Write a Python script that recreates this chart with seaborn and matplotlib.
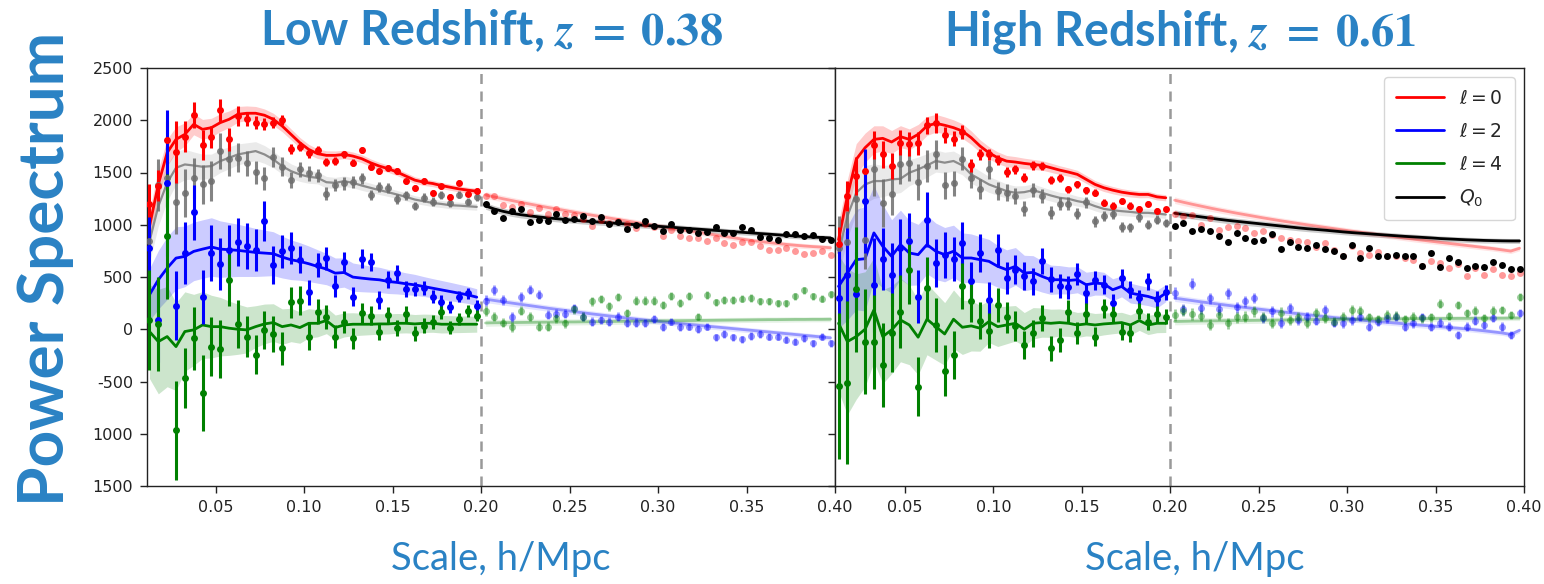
import numpy as np
import matplotlib
matplotlib.use('Agg')
import matplotlib.pyplot as plt
import seaborn as sns
from matplotlib.lines import Line2D

# ---------------- k bins ----------------
K_LOW = [0.0125, 0.0175, 0.0225, 0.0275, 0.0325, 0.0375, 0.0425, 0.0475, 0.0525, 0.0575,
         0.0625, 0.0675, 0.0725, 0.0775, 0.0825, 0.0875, 0.0925, 0.0975, 0.1025, 0.1075,
         0.1125, 0.1175, 0.1225, 0.1275, 0.1325, 0.1375, 0.1425, 0.1475, 0.1525, 0.1575,
         0.1625, 0.1675, 0.1725, 0.1775, 0.1825, 0.1875, 0.1925, 0.1975]
K_HIGH = [0.2025, 0.2075, 0.2125, 0.2175, 0.2225, 0.2275, 0.2325, 0.2375, 0.2425, 0.2475,
          0.2525, 0.2575, 0.2625, 0.2675, 0.2725, 0.2775, 0.2825, 0.2875, 0.2925, 0.2975,
          0.3025, 0.3075, 0.3125, 0.3175, 0.3225, 0.3275, 0.3325, 0.3375, 0.3425, 0.3475,
          0.3525, 0.3575, 0.3625, 0.3675, 0.3725, 0.3775, 0.3825, 0.3875, 0.3925, 0.3975]

# ---------------- Low redshift z=0.38 (left) ----------------
P0_LOW_L = [1203, 1375, 1808, 1696, 1843, 2048, 1766, 1840, 2095, 1817, 2041, 2009, 1977, 1961, 1977, 2000, 1721, 1747, 1683, 1715,
            1600, 1609, 1673, 1593, 1715, 1555, 1513, 1542, 1510, 1414, 1353, 1417, 1305, 1369, 1267, 1401, 1295, 1327]
E0_LOW_L = [190, 150, 185, 295, 150, 123, 145, 105, 110, 110, 96, 60, 60, 58, 55, 50, 48, 45, 42, 40,
            38, 36, 35, 34, 33, 32, 31, 30, 29, 28, 27, 27, 26, 25, 25, 24, 24, 23]
M0_LOW_L = [985, 1385, 1690, 1817, 1865, 1961, 1913, 1929, 1977, 2009, 2057, 2067, 2067, 2048, 2009, 1945, 1865, 1785, 1721, 1680,
            1664, 1664, 1673, 1657, 1632, 1593, 1561, 1536, 1504, 1465, 1427, 1407, 1395, 1375, 1359, 1343, 1331, 1321]
B0_LOW_L = [150, 140, 130, 120, 110, 100, 95, 90, 85, 80, 75, 70, 65, 60, 58, 55, 52, 50, 48, 46,
            44, 42, 40, 39, 38, 37, 36, 35, 34, 33, 32, 31, 30, 30, 29, 29, 28, 28]
PQ_LOW_L = [841, 1380, 1450, 1216, 1300, 1450, 1386, 1418, 1706, 1626, 1642, 1587, 1504, 1443, 1648, 1555, 1427, 1530, 1491, 1472,
            1299, 1379, 1395, 1408, 1443, 1286, 1363, 1353, 1248, 1283, 1180, 1260, 1222, 1289, 1206, 1289, 1222, 1267]
EQ_LOW_L = [250, 250, 280, 300, 230, 190, 190, 190, 170, 160, 140, 120, 110, 110, 100, 90, 80, 75, 70, 65,
            62, 60, 58, 55, 52, 50, 48, 46, 45, 44, 42, 40, 40, 38, 37, 36, 35, 35]
MQ_LOW_L = [841, 1177, 1401, 1545, 1577, 1567, 1555, 1561, 1609, 1641, 1673, 1689, 1705, 1673, 1625, 1561, 1513, 1481, 1459, 1449,
            1407, 1401, 1417, 1401, 1375, 1353, 1331, 1311, 1289, 1267, 1241, 1225, 1209, 1199, 1187, 1183, 1177, 1171]
BQ_LOW_L = [200, 190, 175, 160, 145, 130, 120, 115, 110, 105, 100, 95, 90, 85, 80, 75, 70, 66, 62, 58,
            55, 52, 50, 48, 46, 44, 42, 40, 39, 38, 37, 36, 35, 34, 34, 33, 33, 32]
P2_LOW_L = [777, 89, 1400, 224, 729, 1120, 307, 729, 627, 755, 832, 800, 761, 1033, 617, 745, 777, 665, 355, 617,
            681, 416, 639, 313, 675, 643, 281, 473, 537, 384, 384, 393, 313, 265, 211, 313, 345, 227]
E2_LOW_L = [300, 400, 700, 330, 300, 265, 260, 265, 250, 240, 230, 220, 200, 190, 180, 160, 150, 128, 120, 115,
            110, 105, 100, 95, 90, 88, 85, 82, 80, 75, 70, 68, 65, 60, 58, 55, 52, 50]
M2_LOW_L = [330, 473, 585, 681, 697, 745, 767, 787, 767, 761, 755, 745, 735, 729, 723, 691, 665, 649, 627, 601,
            576, 537, 543, 499, 489, 480, 473, 457, 448, 435, 425, 409, 393, 377, 361, 345, 329, 307]
B2_LOW_L = [250, 280, 300, 300, 290, 280, 280, 280, 270, 260, 250, 240, 230, 220, 210, 200, 190, 180, 170, 160,
            150, 145, 140, 135, 130, 125, 120, 115, 110, 105, 100, 95, 92, 90, 88, 85, 82, 80]
P4_LOW_L = [89, 51, 889, -968, -468, -86, -611, -166, -188, 473, 51, -70, -242, -6, -45, -182, 258, 274, -70, 169,
            121, -70, 67, -86, 159, 131, -22, 137, 10, 143, -38, 35, 73, 162, 16, 99, 178, 131]
E4_LOW_L = [480, 450, 600, 470, 290, 300, 366, 280, 280, 250, 230, 200, 190, 180, 170, 160, 150, 140, 130, 120,
            115, 110, 105, 100, 95, 90, 85, 80, 78, 75, 72, 70, 68, 65, 62, 60, 58, 55]
M4_LOW_L = [-22, -118, -70, -166, -22, -6, 41, 25, 25, 10, 0, -6, 25, 51, 64, 25, 41, 16, 57, 57,
            83, 16, 41, 48, 48, 48, 51, 51, 57, 57, 51, 57, 57, 48, 48, 48, 48, 48]
B4_LOW_L = [450, 500, 480, 420, 380, 340, 320, 300, 280, 260, 240, 220, 200, 190, 180, 170, 160, 150, 140, 130,
            125, 120, 115, 110, 105, 100, 98, 96, 94, 92, 90, 88, 86, 84, 82, 80, 78, 76]

P0_HIGH_L = [1274, 1274, 1187, 1171, 1200, 1120, 1162, 1104, 1146, 1104, 1098, 1059, 992, 1043, 1018, 1034, 1011, 970, 1008, 979,
             890, 954, 890, 874, 874, 848, 874, 826, 810, 832, 832, 800, 762, 755, 778, 746, 723, 730, 746, 707]
M0_HIGH_L = [1285, 1266, 1248, 1231, 1214, 1198, 1182, 1166, 1151, 1136, 1121, 1106, 1092, 1078, 1064, 1050, 1036, 1022, 1008, 994,
             980, 967, 954, 941, 928, 915, 902, 889, 876, 863, 850, 840, 830, 820, 812, 804, 797, 791, 786, 780]
PQ_HIGH_L = [1203, 1130, 1066, 1130, 1155, 1024, 1043, 1034, 1107, 1050, 1059, 1088, 1034, 1075, 1011, 1024, 960, 1002, 1040, 992,
             938, 1008, 947, 954, 921, 931, 979, 921, 921, 976, 947, 883, 874, 851, 912, 915, 890, 906, 864, 858]
MQ_HIGH_L = [1180, 1150, 1128, 1110, 1096, 1085, 1075, 1066, 1058, 1050, 1043, 1036, 1030, 1024, 1018, 1012, 1006, 1000, 994, 988,
             982, 976, 970, 964, 958, 952, 946, 940, 934, 928, 922, 916, 910, 904, 898, 892, 887, 882, 878, 874]
P2_HIGH_L = [275, 378, 282, 115, 307, 378, 330, 138, 147, 147, 202, 122, 74, 90, 74, 122, 64, 64, 58, 96,
             26, 74, 26, 26, 0, 26, -77, -45, -77, -96, -64, -45, -70, -70, -102, -118, -86, -134, -70, -134]
M2_HIGH_L = [288, 275, 262, 250, 238, 226, 214, 202, 191, 180, 169, 158, 147, 137, 127, 117, 107, 98, 89, 80,
             71, 62, 54, 46, 38, 30, 22, 14, 6, -2, -10, -18, -26, -34, -42, -50, -58, -66, -74, -82]
P4_HIGH_L = [179, 122, 64, 19, 179, 122, 26, 26, 106, 58, 192, 122, 266, 288, 218, 307, 154, 275, 275, 275,
             234, 320, 250, 320, 122, 330, 256, 282, 282, 291, 298, 266, 266, 250, 250, 314, 371, 314, 291, 336]
M4_HIGH_L = [60, 62, 63, 64, 65, 66, 67, 68, 69, 70, 70, 71, 72, 73, 74, 75, 76, 77, 78, 79,
             80, 81, 82, 83, 84, 85, 86, 87, 88, 89, 90, 91, 92, 92, 93, 94, 94, 95, 95, 96]
E_HIGH_L = [48, 47, 46, 46, 45, 45, 44, 44, 43, 43, 42, 42, 41, 41, 40, 40, 40, 39, 39, 39,
            38, 38, 38, 37, 37, 37, 36, 36, 36, 35, 35, 35, 35, 34, 34, 34, 34, 33, 33, 33]

# ---------------- High redshift z=0.61 (right) ----------------
P0_LOW_H = [816, 1274, 1466, 1514, 1760, 1674, 1562, 1786, 1770, 1779, 1952, 1971, 1856, 1824, 1888, 1568, 1674, 1674, 1619, 1504,
            1530, 1450, 1568, 1562, 1427, 1450, 1338, 1386, 1331, 1306, 1210, 1184, 1229, 1184, 1155, 1203, 1136, 1146]
E0_LOW_H = [160, 145, 180, 200, 135, 130, 120, 120, 115, 110, 80, 95, 75, 70, 65, 60, 55, 52, 50, 48,
            46, 44, 42, 40, 38, 37, 36, 35, 34, 33, 32, 31, 30, 30, 29, 28, 28, 27]
M0_LOW_H = [857, 1274, 1626, 1737, 1817, 1827, 1792, 1843, 1817, 1865, 1945, 1971, 1952, 1929, 1897, 1833, 1753, 1689, 1641, 1609,
            1600, 1587, 1577, 1568, 1546, 1523, 1504, 1482, 1434, 1386, 1354, 1331, 1312, 1299, 1290, 1290, 1267, 1258]
B0_LOW_H = [170, 160, 150, 140, 130, 120, 110, 105, 100, 95, 90, 85, 80, 75, 70, 65, 60, 58, 56, 54,
            52, 50, 48, 46, 44, 42, 40, 39, 38, 37, 36, 35, 34, 33, 32, 31, 30, 30]
PQ_LOW_H = [780, 832, 1250, 857, 1529, 1210, 1290, 1578, 1594, 1408, 1562, 1674, 1376, 1395, 1632, 1450, 1344, 1530, 1322, 1306,
            1274, 1155, 1331, 1274, 1114, 1203, 1203, 1107, 1216, 1034, 1082, 1107, 976, 976, 1075, 1002, 1050, 1018]
EQ_LOW_H = [300, 300, 300, 280, 250, 230, 200, 190, 180, 170, 150, 140, 130, 120, 110, 100, 95, 90, 85, 80,
            75, 70, 68, 65, 62, 60, 58, 56, 54, 52, 50, 48, 46, 45, 44, 43, 42, 41]
MQ_LOW_H = [730, 1082, 1306, 1386, 1418, 1418, 1434, 1440, 1498, 1530, 1568, 1610, 1594, 1610, 1568, 1482, 1434, 1386, 1354, 1322,
            1306, 1312, 1331, 1306, 1280, 1258, 1248, 1226, 1210, 1178, 1152, 1139, 1130, 1123, 1114, 1114, 1107, 1098]
BQ_LOW_H = [220, 210, 195, 180, 165, 150, 140, 132, 125, 118, 112, 106, 100, 95, 90, 85, 80, 76, 72, 68,
            65, 62, 59, 56, 54, 52, 50, 48, 46, 45, 44, 43, 42, 41, 40, 39, 38, 38]
P2_LOW_H = [297, 522, 340, 1226, 420, 672, 522, 778, 842, 313, 1050, 633, 714, 672, 826, 458, 730, 282, 755, 490,
            570, 506, 458, 650, 480, 416, 403, 531, 346, 467, 426, 250, 490, 378, 298, 458, 288, 352]
E2_LOW_H = [500, 450, 400, 500, 450, 300, 300, 280, 270, 250, 260, 230, 220, 210, 200, 190, 180, 170, 160, 150,
            140, 135, 130, 125, 120, 115, 110, 105, 100, 95, 90, 88, 85, 82, 80, 78, 75, 72]
M2_LOW_H = [410, 538, 666, 675, 922, 794, 698, 810, 730, 714, 810, 746, 714, 746, 682, 682, 666, 650, 602, 570,
            602, 538, 544, 506, 474, 474, 467, 474, 426, 442, 435, 378, 410, 346, 330, 314, 288, 346]
B2_LOW_H = [400, 450, 480, 500, 450, 400, 350, 330, 310, 290, 280, 270, 260, 250, 240, 230, 220, 210, 200, 190,
            180, 170, 160, 150, 140, 135, 130, 125, 120, 115, 110, 105, 100, 95, 90, 88, 85, 82]
P4_LOW_H = [-541, -510, 382, -118, -118, -341, -32, 169, 563, -548, 393, 41, -395, -245, 414, 274, 83, -13, 232, 115,
            32, -150, -38, 111, -182, -102, 169, -38, 147, -70, 201, 147, -22, -38, 175, 73, 143, 121]
E4_LOW_H = [700, 780, 600, 500, 450, 400, 380, 350, 320, 280, 300, 260, 240, 230, 220, 200, 180, 170, 160, 150,
            140, 135, 130, 125, 120, 115, 110, 105, 100, 95, 90, 88, 85, 82, 80, 78, 75, 72]
M4_LOW_H = [57, -118, -70, 0, 185, -70, -6, 89, 41, -76, 96, 25, -45, 96, 19, 32, 10, 73, 25, 41,
            57, 0, 57, 64, 57, 64, 57, 41, 51, 41, 51, 57, 64, 41, 83, 41, 57, 57]
B4_LOW_H = [650, 700, 600, 550, 500, 450, 420, 400, 380, 360, 340, 320, 300, 280, 260, 240, 220, 200, 190, 180,
            170, 160, 150, 140, 135, 130, 125, 120, 115, 110, 105, 100, 98, 96, 94, 92, 90, 88]

P0_HIGH_H = [1107, 1082, 1098, 1002, 1066, 954, 979, 986, 970, 922, 938, 906, 874, 858, 842, 832, 787, 826, 762, 698,
             794, 730, 714, 736, 698, 698, 682, 666, 602, 650, 634, 586, 627, 506, 586, 522, 576, 522, 506, 538]
M0_HIGH_H = [1235, 1215, 1196, 1178, 1160, 1143, 1127, 1111, 1096, 1081, 1066, 1052, 1038, 1025, 1012, 999, 987, 975, 963, 951,
             939, 928, 917, 906, 895, 884, 873, 862, 852, 842, 832, 822, 812, 802, 792, 782, 772, 760, 748, 775]
PQ_HIGH_H = [986, 1018, 938, 960, 938, 896, 832, 922, 874, 842, 851, 915, 768, 832, 787, 778, 810, 768, 746, 698,
             810, 682, 778, 698, 698, 714, 698, 698, 608, 730, 595, 682, 643, 586, 602, 595, 640, 618, 576, 576]
MQ_HIGH_H = [1110, 1098, 1086, 1075, 1064, 1052, 1042, 1033, 1024, 1015, 1006, 997, 988, 979, 970, 962, 955, 948, 940, 932,
             925, 919, 913, 907, 901, 895, 889, 884, 879, 874, 868, 864, 860, 856, 853, 850, 848, 846, 845, 845]
P2_HIGH_H = [346, 192, 435, 202, 298, 192, 346, 211, 266, 298, 106, 170, 64, 202, 90, 115, 83, 186, 64, 58,
             90, 122, 26, 74, 106, 122, 26, 58, 115, 26, 64, 26, -54, 26, 83, 42, 106, 26, -54, 154]
M2_HIGH_H = [298, 286, 274, 262, 251, 240, 229, 218, 208, 198, 188, 178, 168, 158, 148, 139, 130, 121, 112, 104,
             96, 88, 80, 73, 66, 59, 52, 45, 38, 31, 24, 17, 10, 3, -6, -15, -25, -35, -50, -10]
P4_HIGH_H = [138, 179, 147, 128, 42, 138, 58, 115, 122, 170, 115, 58, 160, 90, 115, 58, 154, 106, 74, 122,
             186, 179, 115, 96, 138, 128, 96, 122, 106, 115, 243, 128, 234, 154, 179, 106, 179, 186, 138, 307]
M4_HIGH_H = [74, 76, 78, 79, 80, 81, 82, 83, 84, 85, 86, 87, 88, 89, 90, 91, 92, 93, 94, 95,
             96, 97, 98, 99, 100, 100, 101, 101, 102, 102, 103, 103, 104, 104, 105, 105, 106, 106, 107, 107]
E_HIGH_H = [55, 54, 54, 53, 53, 52, 52, 51, 51, 50, 50, 49, 49, 48, 48, 47, 47, 46, 46, 45,
            45, 45, 44, 44, 44, 43, 43, 43, 42, 42, 42, 41, 41, 41, 40, 40, 40, 40, 39, 39]

B_HIGH = [32, 32, 31, 31, 31, 30, 30, 30, 30, 29, 29, 29, 29, 28, 28, 28, 28, 28, 27, 27,
          27, 27, 27, 26, 26, 26, 26, 26, 26, 25, 25, 25, 25, 25, 25, 25, 24, 24, 24, 24]

TITLES = ["Low Redshift, ", "High Redshift, "]
ZVALS = ["0.38", "0.61"]
XLABEL = "Scale, h/Mpc"
YLABEL = "Power Spectrum"
YTICKS = [2500, 2000, 1500, 1000, 500, 0, -500, -1000, -1500]
YTICKLABELS = ["2500", "2000", "1500", "1000", "500", "0", "-500", "1000", "1500"]
XTICKS = [0.05, 0.10, 0.15, 0.20, 0.25, 0.30, 0.35, 0.40]
LEG_LABELS = [r"$\ell = 0$", r"$\ell = 2$", r"$\ell = 4$", r"$Q_0$"]

RED, BLUE, GREEN, BLACK, GRAY = "#ff0000", "#0000ff", "#008000", "#000000", "#7a7a7a"
TXT_BLUE = "#2a82c4"

sns.set_style("ticks")
plt.rcParams['font.family'] = ['DejaVu Sans']
plt.rcParams['mathtext.fontset'] = 'dejavusans'

W, H = 1544, 584
fig = plt.figure(figsize=(W / 100, H / 100), dpi=100)
x0, xm, x1, ytop, ybot = 147, 835, 1524, 68, 486
axL = fig.add_axes([x0 / W, 1 - ybot / H, (xm - x0) / W, (ybot - ytop) / H])
axR = fig.add_axes([xm / W, 1 - ybot / H, (x1 - xm) / W, (ybot - ytop) / H], sharey=axL)


def series_low(ax, k, p, e, m, b, color, pcolor=None, lcolor=None, balpha=0.2, palpha=1.0, lw=2.0):
    m = np.asarray(m, float); b = np.asarray(b, float)
    ax.fill_between(k, m - b, m + b, color=lcolor or color, alpha=balpha, lw=0, zorder=1)
    sns.lineplot(x=k, y=m, ax=ax, color=lcolor or color, lw=lw, zorder=3, legend=False)
    ax.errorbar(k, p, yerr=e, fmt='o', ms=5, color=pcolor or color, ecolor=pcolor or color,
                elinewidth=2.2, capsize=0, mew=0, alpha=palpha, zorder=4)


def series_high(ax, k, p, e, m, b, color, alpha_pt, alpha_ln, balpha, lw=2.0):
    m = np.asarray(m, float); b = np.asarray(b, float)
    ax.fill_between(k, m - b, m + b, color=color, alpha=balpha, lw=0, zorder=1)
    sns.lineplot(x=k, y=m, ax=ax, color=color, lw=lw, alpha=alpha_ln, zorder=3, legend=False)
    ax.errorbar(k, p, yerr=e, fmt='o', ms=5, color=color, ecolor=color,
                elinewidth=2.0, capsize=0, mew=0, alpha=alpha_pt, zorder=4)


panels = [
    (axL, dict(P0=P0_LOW_L, E0=E0_LOW_L, M0=M0_LOW_L, B0=B0_LOW_L,
               PQ=PQ_LOW_L, EQ=EQ_LOW_L, MQ=MQ_LOW_L, BQ=BQ_LOW_L,
               P2=P2_LOW_L, E2=E2_LOW_L, M2=M2_LOW_L, B2=B2_LOW_L,
               P4=P4_LOW_L, E4=E4_LOW_L, M4=M4_LOW_L, B4=B4_LOW_L,
               hP0=P0_HIGH_L, hM0=M0_HIGH_L, hPQ=PQ_HIGH_L, hMQ=MQ_HIGH_L,
               hP2=P2_HIGH_L, hM2=M2_HIGH_L, hP4=P4_HIGH_L, hM4=M4_HIGH_L, hE=E_HIGH_L), 0.0111),
    (axR, dict(P0=P0_LOW_H, E0=E0_LOW_H, M0=M0_LOW_H, B0=B0_LOW_H,
               PQ=PQ_LOW_H, EQ=EQ_LOW_H, MQ=MQ_LOW_H, BQ=BQ_LOW_H,
               P2=P2_LOW_H, E2=E2_LOW_H, M2=M2_LOW_H, B2=B2_LOW_H,
               P4=P4_LOW_H, E4=E4_LOW_H, M4=M4_LOW_H, B4=B4_LOW_H,
               hP0=P0_HIGH_H, hM0=M0_HIGH_H, hPQ=PQ_HIGH_H, hMQ=MQ_HIGH_H,
               hP2=P2_HIGH_H, hM2=M2_HIGH_H, hP4=P4_HIGH_H, hM4=M4_HIGH_H, hE=E_HIGH_H), 0.0105),
]

zero = [0] * len(K_HIGH)
for ax, d, xmin in panels:
    # k < 0.2 : Q0 in grey, multipoles in full colour
    series_low(ax, K_LOW, d['PQ'], d['EQ'], d['MQ'], d['BQ'], GRAY, pcolor="#6e6e6e",
               lcolor="#8c8c8c", balpha=0.18, palpha=0.85, lw=1.6)
    series_low(ax, K_LOW, d['P0'], d['E0'], d['M0'], d['B0'], RED)
    series_low(ax, K_LOW, d['P2'], d['E2'], d['M2'], d['B2'], BLUE)
    series_low(ax, K_LOW, d['P4'], d['E4'], d['M4'], d['B4'], GREEN)
    # k > 0.2 : multipoles faded, Q0 in black
    series_high(ax, K_HIGH, d['hP0'], zero, d['hM0'], B_HIGH, RED, 0.4, 0.35, 0.1)
    series_high(ax, K_HIGH, d['hP2'], d['hE'], d['hM2'], B_HIGH, BLUE, 0.4, 0.35, 0.1)
    series_high(ax, K_HIGH, d['hP4'], d['hE'], d['hM4'], B_HIGH, GREEN, 0.4, 0.35, 0.1)
    series_high(ax, K_HIGH, d['hPQ'], zero, d['hMQ'], B_HIGH, BLACK, 1.0, 1.0, 0.2)

    ax.axvline(0.2, color="#999999", ls=(0, (4, 3)), lw=1.8, zorder=0)
    ax.set_xlim(xmin, 0.40)
    ax.set_ylim(-1500, 2500)
    ax.set_xticks(XTICKS)
    ax.set_xticklabels([f"{t:.2f}" for t in XTICKS])
    ax.set_yticks(YTICKS)
    ax.tick_params(axis='both', direction='out', length=5, width=1.0, labelsize=11.5,
                   colors='#222222', pad=5)
    for s in ax.spines.values():
        s.set_linewidth(1.0)
        s.set_color('#222222')
    ax.set_xlabel("")
    ax.set_ylabel("")

axL.set_yticklabels(YTICKLABELS)
axR.tick_params(axis='y', labelleft=False)

handles = [Line2D([], [], color=c, lw=2) for c in (RED, BLUE, GREEN, BLACK)]
leg = axR.legend(handles, LEG_LABELS, loc='upper right', fontsize=13.5, handlelength=2.6,
                 labelspacing=0.75, borderpad=0.6, frameon=True, fancybox=True)
leg.get_frame().set_edgecolor('#cccccc')

# Titles and labels
for i, (cx) in enumerate([(x0 + xm) / 2, (xm + x1) / 2]):
    fig.text(cx / W, 1 - 45 / H, TITLES[i] + r"$\boldsymbol{z\ =\ " + ZVALS[i] + "}$",
             ha='center', va='baseline', fontsize=33.5, fontweight='bold', family='Lato',
             color=TXT_BLUE, math_fontfamily='stix')
for cx in [501, 1195]:
    fig.text(cx / W, 1 - 570 / H, XLABEL, ha='center', va='baseline', fontsize=27.5,
             family='Lato', color=TXT_BLUE)
fig.text(74 / W, 1 - 269 / H, YLABEL, rotation=90, ha='right', va='center',
         fontsize=46, fontweight='bold', family='Lato', color=TXT_BLUE)

fig.savefig('out.png', dpi=100)
